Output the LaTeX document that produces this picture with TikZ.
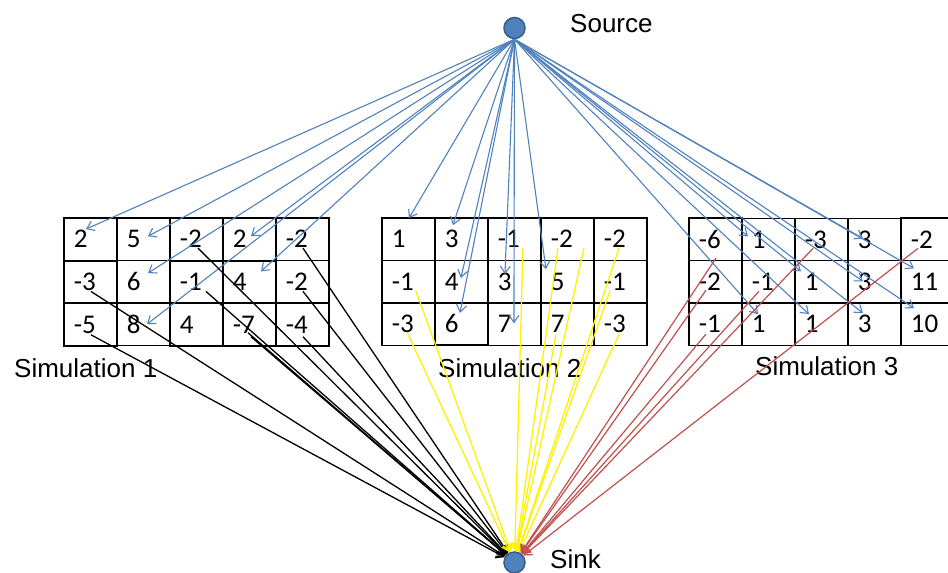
\documentclass[tikz,border=0pt]{standalone}
\usepackage{fontspec}
\setmainfont{Liberation Sans}
\newfontfamily\cellfont{Carlito}
\usepackage{xcolor}
\usepackage{tikz}
\usetikzlibrary{matrix,calc,arrows.meta}

\definecolor{lineblue}{HTML}{4F81BD}
\definecolor{linered}{HTML}{C0504D}
\definecolor{ptfill}{HTML}{4F81BD}
\definecolor{ptline}{HTML}{385D8A}

\begin{document}
\begin{tikzpicture}[x=1pt,y=-1pt,
    numcell/.style={draw,line width=1.5pt,text width=33pt,inner xsep=10pt,inner ysep=0pt,
        minimum height=42.3pt,align=left,font=\cellfont\fontsize{27}{30}\selectfont},
    lbl/.style={font=\fontsize{26}{30}\selectfont,inner sep=0pt,anchor=base west},
    endpt/.style={circle,draw=ptline,fill=ptfill,line width=1.5pt,minimum size=21pt,inner sep=0pt},
    toblue/.style={draw=lineblue,line width=1.1pt,-{Straight Barb[length=7pt,width=10pt]}},
    toblack/.style={draw=black,line width=1.3pt,-{Straight Barb[length=7pt,width=10pt]}},
    toyellow/.style={draw=yellow,line width=1.3pt,-{Straight Barb[length=7pt,width=10pt]}},
    tored/.style={draw=linered,line width=1.2pt,-{Straight Barb[length=7pt,width=10pt]}}]
        \useasboundingbox (0,0) rectangle (948,573);

        \node[endpt] (src) at (514.5,28) {};
        \node[endpt] (sink) at (514.5,562.5) {};
        \node[lbl] (srclbl) at ($(src)+(55.5,4)$) {Source};
        \node[lbl] (sinklbl) at ($(sink)+(35.5,5.5)$) {Sink};

        \matrix (mA) [matrix of nodes,nodes={numcell},column sep=-1.5pt,row sep=-1.5pt,inner sep=0pt,anchor=north west] at (63,217)
        {
            2 & 5 & -2 & 2 & -2 \\
            -3 & 6 & -1 & 4 & -2 \\
            -5 & 8 & 4 & -7 & -4 \\
        };

        \matrix (mB) [matrix of nodes,nodes={numcell},column sep=-1.5pt,row sep=-1.5pt,inner sep=0pt,anchor=north west] at (381,217)
        {
            1 & 3 & -1 & -2 & -2 \\
            -1 & 4 & 3 & 5 & -1 \\
            -3 & 6 & 7 & 7 & -3 \\
        };

        \matrix (mC) [matrix of nodes,nodes={numcell},column sep=-1.5pt,row sep=-1.5pt,inner sep=0pt,anchor=north west] at (688,217)
        {
            -6 & 1 & -3 & 3 & -2 \\
            -2 & -1 & 1 & 3 & 11 \\
            -1 & 1 & 1 & 3 & 10 \\
        };

        \node[lbl] (lab1) at ($(mA.south west)+(-49,31)$) {Simulation 1};
        \node[lbl] (lab2) at ($(mB.south west)+(57,31)$) {Simulation 2};
        \node[lbl] (lab3) at ($(mC.south west)+(67,29)$) {Simulation 3};

        % source to simulation 1
        \draw[toblue] (src.south) -- ($(mA-1-1)+(-4.5,-10)$);
        \draw[toblue] (src.south) -- ($(mA-1-2)+(4.5,-3)$);
        \draw[toblue] (src.south) -- ($(mA-1-4)+(1.5,-3)$);
        \draw[toblue] (src.south) -- ($(mA-2-2)+(4.5,-8.5)$);
        \draw[toblue] (src.south) -- ($(mA-2-4)+(11.5,-10.5)$);
        \draw[toblue] (src.south) -- ($(mA-3-2)+(3.5,0)$);

        % source to simulation 2
        \draw[toblue] (src.south) -- ($(mB-1-1)+(0.5,-21)$);
        \draw[toblue] (src.south) -- ($(mB-1-2)+(-8.5,-14)$);
        \draw[toblue] (src.south) -- ($(mB-2-2)+(-0.5,-3.5)$);
        \draw[toblue] (src.south) -- ($(mB-3-2)+(-1.5,-11)$);
        \draw[toblue] (src.south) -- ($(mB-2-3)+(-9.5,-7.5)$);
        \draw[toblue] (src.south) -- ($(mB-3-3)+(-0.5,-1)$);
        \draw[toblue] (src.south) -- ($(mB-2-4)+(-21.5,-12.5)$);

        % source to simulation 3
        \draw[toblue] (src.south) -- ($(mC-1-2)+(-20.5,-3)$);
        \draw[toblue] (src.south) -- ($(mC-1-4)+(-11.5,-1)$);
        \draw[toblue] (src.south) -- ($(mC-2-3)+(-20.5,-10.5)$);
        \draw[toblue] (src.south) -- ($(mC-2-4)+(-11.5,-0.5)$);
        \draw[toblue] (src.south) -- ($(mC-2-5)+(-13.5,-13.5)$);
        \draw[toblue] (src.south) -- ($(mC-3-5)+(-13.5,-16)$);
        \draw[toblue] (src.south) -- ($(mC-3-2)+(-10.5,-10)$);
        \draw[toblue] (src.south) -- ($(mC-3-3)+(-12.5,-10)$);
        \draw[toblue] (src.south) -- ($(mC-3-4)+(-11.5,-11)$);

        % simulation 1 to sink
        \draw[toblack] ($(mA-1-3)+(1.5,9)$) -- (sink);
        \draw[toblack] ($(mA-1-5)+(0.5,9)$) -- (sink);
        \draw[toblack] ($(mA-2-1)+(0.5,9.5)$) -- (sink);
        \draw[toblack] ($(mA-2-3)+(9.5,9.5)$) -- (sink);
        \draw[toblack] ($(mA-2-5)+(0.5,9.5)$) -- (sink);
        \draw[toblack] ($(mA-3-1)+(0.5,10)$) -- (sink);
        \draw[toblack] ($(mA-3-4)+(-1.5,8)$) -- (sink);
        \draw[toblack] ($(mA-3-4)+(1.5,12)$) -- (sink);
        \draw[toblack] ($(mA-3-5)+(0.5,12)$) -- (sink);

        % simulation 2 to sink
        \draw[toyellow] ($(mB-1-3)+(8.5,9)$) -- (sink);
        \draw[toyellow] ($(mB-1-4)+(-9.5,9)$) -- (sink);
        \draw[toyellow] ($(mB-1-4)+(16.5,9)$) -- (sink);
        \draw[toyellow] ($(mB-1-5)+(-1.5,9)$) -- (sink);
        \draw[toyellow] ($(mB-2-1)+(7.5,9.5)$) -- (sink);
        \draw[toyellow] ($(mB-2-5)+(-10.5,9.5)$) -- (sink);
        \draw[toyellow] ($(mB-3-1)+(-0.5,10)$) -- (sink);
        \draw[toyellow] ($(mB-3-4)+(-11.5,10)$) -- (sink);
        \draw[toyellow] ($(mB-3-5)+(-1.5,10)$) -- (sink);

        % simulation 3 to sink
        \draw[tored] ($(mC-1-1)+(0.5,19)$) -- (sink);
        \draw[tored] ($(mC-2-1)+(-9.5,8.5)$) -- (sink);
        \draw[tored] ($(mC-3-1)+(-9.5,10)$) -- (sink);
        \draw[tored] ($(mC-2-2)+(-9.5,9.5)$) -- (sink);
        \draw[tored] ($(mC-1-3)+(-8.5,9)$) -- (sink);
        \draw[tored] ($(mC-1-5)+(-9.5,9)$) -- (sink);
    \end{tikzpicture}
\end{document}
